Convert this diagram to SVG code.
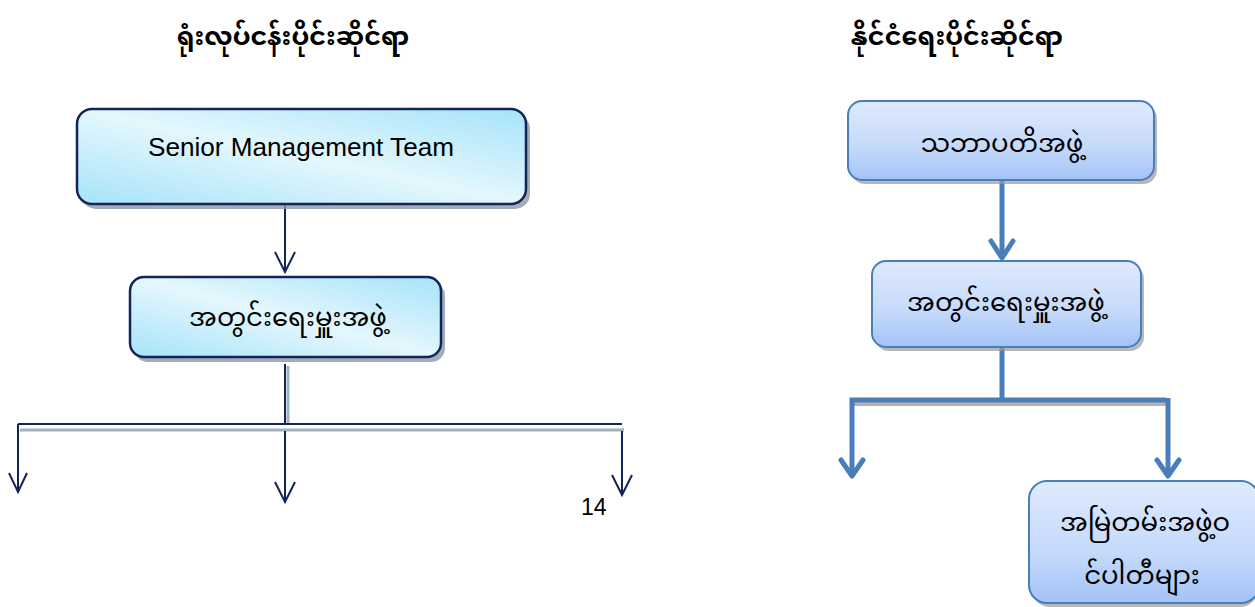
<svg xmlns="http://www.w3.org/2000/svg" width="1255" height="607" viewBox="0 0 1255 607">
<defs>
<linearGradient id="gCyan" x1="0" y1="1" x2="1" y2="0">
<stop offset="0" stop-color="#a6e3f9"/>
<stop offset="0.5" stop-color="#e4f7fd"/>
<stop offset="1" stop-color="#a6e3f9"/>
</linearGradient>
<linearGradient id="gBlue" x1="0" y1="0" x2="0" y2="1">
<stop offset="0" stop-color="#dfeafd"/>
<stop offset="0.6" stop-color="#c4d9fb"/>
<stop offset="1" stop-color="#a3c3f6"/>
</linearGradient>
</defs>
<style>
.title{font-family:"Noto Sans Myanmar","Padauk","Myanmar Text","Noto Sans",sans-serif;font-size:25.5px;font-weight:bold;fill:#000;text-anchor:middle}
.lbl{font-family:"Noto Sans Myanmar","Padauk","Myanmar Text","Noto Sans",sans-serif;font-size:26px;fill:#000;text-anchor:middle}
.en{font-family:"Liberation Sans",Arial,sans-serif;font-size:25px;fill:#000;text-anchor:middle}
.num{font-family:"Liberation Sans",Arial,sans-serif;font-size:23px;fill:#000}
.cbox{fill:url(#gCyan);stroke:#142458;stroke-width:2.5}
.bbox{fill:url(#gBlue);stroke:#4a7ebb;stroke-width:2}
.sh{fill:#8a9aa6;opacity:0.8}
.shb{fill:#9a9a9a;opacity:0.7}
.nv{stroke:#142458;stroke-width:2;fill:none}
.nvs{stroke:#9fb2bd;stroke-width:3;fill:none}
.bl{stroke:#4a7ebb;stroke-width:5;fill:none;stroke-linecap:butt}
.blh{stroke:#4a7ebb;stroke-width:5;fill:none;stroke-linecap:round;stroke-linejoin:round}
.bls{stroke:#a0a0a0;stroke-width:4;fill:none;opacity:0.8}
</style>

<text class="title" x="293" y="45">ရုံးလုပ်ငန်းပိုင်းဆိုင်ရာ</text>
<text class="title" x="957" y="45">နိုင်ငံရေးပိုင်းဆိုင်ရာ</text>

<g id="connectors">
<!-- left -->
<path class="nv" d="M285 204 V272"/>
<path class="nv" d="M275 252 L285 272 L295 252"/>
<path class="nvs" d="M288 366 V424"/>
<path class="nv" d="M285 364 V423"/>
<path class="nv" d="M18 424 H622"/>
<path class="nvs" d="M20 430 H624"/>
<path class="nv" d="M18 424 V492"/>
<path class="nv" d="M9 473 L18 492 L27 473"/>
<path class="nv" d="M285 431 V502"/>
<path class="nv" d="M275 482 L285 502 L295 482"/>
<path class="nv" d="M622 431 V495"/>
<path class="nv" d="M612 475 L622 495 L632 475"/>
<!-- right -->
<path class="bl" d="M1002 174 V258"/>
<path class="blh" d="M991 241 L1002 258 L1013 241"/>
<path class="bl" d="M1002 342 V400"/>
<path class="bls" d="M852 404 H1166"/>
<path class="bl" d="M850 400 H1166"/>
<path class="bl" d="M852 398 V476"/>
<path class="blh" d="M841 460 L852 476 L863 460"/>
<path class="bl" d="M1168 398 V476"/>
<path class="blh" d="M1157 460 L1168 476 L1179 460"/>
</g>

<g id="node-smt">
<rect class="sh" x="81" y="114" width="449" height="95" rx="15"/>
<rect class="cbox" x="77" y="109" width="449" height="95" rx="15"/>
<text class="en" x="301" y="156" textLength="306" lengthAdjust="spacingAndGlyphs">Senior Management Team</text>
</g>

<g id="node-secretariat-left">
<rect class="sh" x="134" y="282" width="311" height="80" rx="14"/>
<rect class="cbox" x="130" y="277" width="311" height="80" rx="14"/>
<text class="lbl" x="288" y="326">အတွင်းရေးမှူးအဖွဲ့</text>
</g>

<g id="node-chair">
<rect class="shb" x="851" y="105" width="306" height="79" rx="14"/>
<rect class="bbox" x="848" y="101" width="306" height="79" rx="14"/>
<text class="lbl" x="1002" y="152">သဘာပတိအဖွဲ့</text>
</g>

<g id="node-secretariat-right">
<rect class="shb" x="875" y="265" width="269" height="86" rx="14"/>
<rect class="bbox" x="872" y="261" width="269" height="86" rx="14"/>
<text class="lbl" x="1006" y="311">အတွင်းရေးမှူးအဖွဲ့</text>
</g>

<g id="node-members">
<rect class="shb" x="1032" y="485" width="226" height="122" rx="18"/>
<rect class="bbox" x="1029" y="481" width="230" height="122" rx="18"/>
<text class="lbl" x="1145" y="531">အမြဲတမ်းအဖွဲ့ဝ</text>
<text class="lbl" x="1142" y="584">င်ပါတီများ</text>
</g>

<text class="num" x="581" y="515">14</text>
</svg>
